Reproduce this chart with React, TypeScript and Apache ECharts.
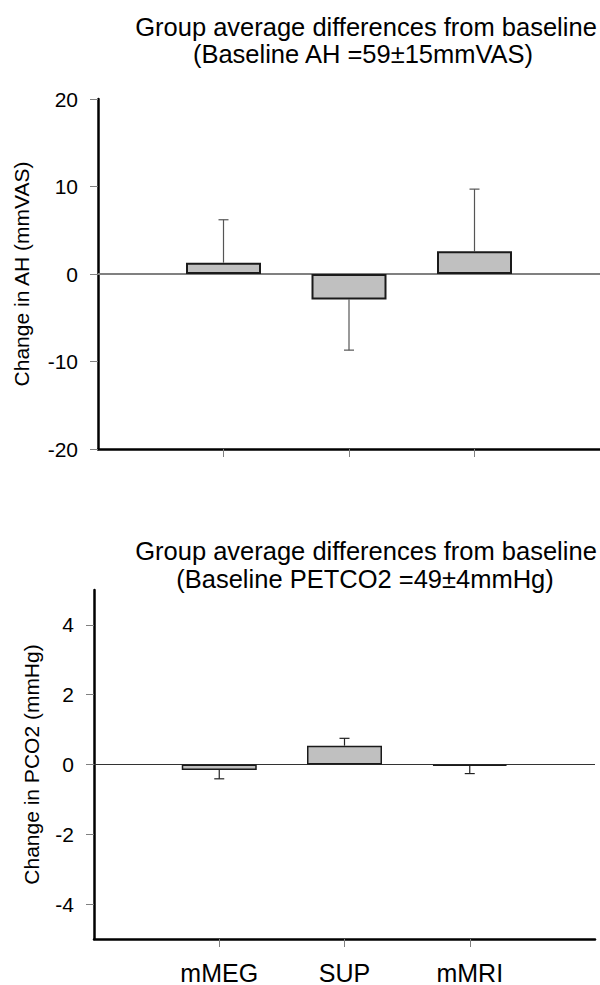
import React, { useEffect, useRef } from "react";
import * as echarts from "echarts";

const categories = ["mMEG", "SUP", "mMRI"];
const catPositions = [1, 2, 3];
const ahMeans = [1.3, -2.9, 2.6];
const ahSD = [4.9, 5.8, 7.1];
const pco2Means = [-0.16, 0.54, -0.04];
const pco2SD = [0.25, 0.21, 0.22];
const ahTicks = [-20, -10, 0, 10, 20];
const pco2Ticks = [-4, -2, 0, 2, 4];

const titleLine1 = "Group average differences from baseline";
const ahTitleLine2 = "(Baseline AH =59±15mmVAS)";
const pco2TitleLine2 = "(Baseline PETCO2 =49±4mmHg)";

const FONT = '"Liberation Sans", Arial, sans-serif';

function errData(means: number[], sd: number[]) {
  return means.map((m, i) => [catPositions[i], m, m >= 0 ? m + sd[i] : m - sd[i]]);
}

function errRender(color: string) {
  return (params: any, api: any) => {
    const x = api.value(0);
    const p0 = api.coord([x, api.value(1)]);
    const p1 = api.coord([x, api.value(2)]);
    const style = { stroke: color, lineWidth: 1.2 };
    return {
      type: "group",
      children: [
        { type: "line", shape: { x1: p0[0], y1: p0[1], x2: p1[0], y2: p1[1] }, style },
        { type: "line", shape: { x1: p1[0] - 5, y1: p1[1], x2: p1[0] + 5, y2: p1[1] }, style },
      ],
    };
  };
}

export default function App() {
  const ref = useRef<HTMLDivElement>(null);
  useEffect(() => {
    if (!ref.current) return;
    const chart = echarts.init(ref.current, undefined, { renderer: "svg" });
    const tickStyle = { color: "#808080", width: 1 };
    const yAxisCommon = (name: string, gap: number) => ({
      type: "value",
      name,
      nameLocation: "middle",
      nameGap: gap,
      nameTextStyle: { fontSize: 21, fontFamily: FONT, color: "#000" },
      axisLine: { show: true, lineStyle: { color: "#000", width: 2.5 } },
      axisTick: { show: true, length: 8, lineStyle: tickStyle },
      axisLabel: { fontSize: 21, fontFamily: FONT, color: "#000", margin: 20 },
      splitLine: { show: false },
    });
    const option: any = {
      animation: false,
      backgroundColor: "#fff",
      grid: [
        { left: 98, top: 99, width: 502, height: 350 },
        { left: 94, top: 590, width: 501, height: 350 },
      ],
      xAxis: [
        {
          gridIndex: 0,
          type: "value",
          min: 0,
          max: 4,
          axisLine: { show: true, onZero: false, lineStyle: { color: "#000", width: 2.5 } },
          axisTick: { show: true, customValues: catPositions, length: 8, lineStyle: tickStyle },
          axisLabel: { show: false },
          splitLine: { show: false },
        },
        {
          gridIndex: 1,
          type: "value",
          min: 0,
          max: 4,
          axisLine: { show: true, onZero: false, lineStyle: { color: "#000", width: 2.5 } },
          axisTick: { show: true, customValues: catPositions, length: 8, lineStyle: tickStyle },
          axisLabel: {
            show: true,
            customValues: catPositions,
            formatter: (v: number) => categories[catPositions.indexOf(v)] ?? "",
            fontSize: 25,
            fontFamily: FONT,
            color: "#000",
            margin: 21,
          },
          splitLine: { show: false },
        },
      ],
      yAxis: [
        {
          gridIndex: 0,
          ...yAxisCommon("Change in AH (mmVAS)", 66),
          min: ahTicks[0],
          max: ahTicks[ahTicks.length - 1],
          interval: 10,
        },
        {
          gridIndex: 1,
          ...yAxisCommon("Change in PCO2 (mmHg)", 52),
          min: -5,
          max: 5,
          axisTick: { show: true, customValues: pco2Ticks, length: 8, lineStyle: tickStyle },
          axisLabel: { customValues: pco2Ticks, fontSize: 21, fontFamily: FONT, color: "#000", margin: 20 },
        },
      ],
      series: [
        {
          type: "bar",
          xAxisIndex: 0,
          yAxisIndex: 0,
          barWidth: 75,
          data: ahMeans.map((m, i) => [catPositions[i], m]),
          itemStyle: { color: "#c0c0c0", borderColor: "#1a1a1a", borderWidth: 2 },
          markLine: {
            silent: true,
            symbol: ["none", "none"],
            label: { show: false },
            lineStyle: { color: "#808080", width: 2, type: "solid" },
            data: [{ yAxis: 0 }],
            z: 1,
          },
          z: 3,
        },
        {
          type: "custom",
          xAxisIndex: 0,
          yAxisIndex: 0,
          renderItem: errRender("#555"),
          encode: { x: 0, y: [1, 2] },
          data: errData(ahMeans, ahSD),
          z: 2,
        },
        {
          type: "bar",
          xAxisIndex: 1,
          yAxisIndex: 1,
          barWidth: 75,
          data: pco2Means.map((m, i) => [catPositions[i], m]),
          itemStyle: { color: "#c0c0c0", borderColor: "#1a1a1a", borderWidth: 1.5 },
          markLine: {
            silent: true,
            symbol: ["none", "none"],
            label: { show: false },
            lineStyle: { color: "#333", width: 1, type: "solid" },
            data: [{ yAxis: 0 }],
            z: 1,
          },
          z: 3,
        },
        {
          type: "custom",
          xAxisIndex: 1,
          yAxisIndex: 1,
          renderItem: errRender("#222"),
          encode: { x: 0, y: [1, 2] },
          data: errData(pco2Means, pco2SD),
          z: 2,
        },
      ],
      graphic: [
        { type: "text", x: 366, y: 27, style: { text: titleLine1, fontSize: 25.5, fontFamily: FONT, fill: "#000", align: "center", verticalAlign: "middle" } },
        { type: "text", x: 363, y: 54, style: { text: ahTitleLine2, fontSize: 25.5, fontFamily: FONT, fill: "#000", align: "center", verticalAlign: "middle" } },
        { type: "text", x: 366, y: 551, style: { text: titleLine1, fontSize: 25.5, fontFamily: FONT, fill: "#000", align: "center", verticalAlign: "middle" } },
        { type: "text", x: 365, y: 579, style: { text: pco2TitleLine2, fontSize: 25.5, fontFamily: FONT, fill: "#000", align: "center", verticalAlign: "middle" } },
      ],
    };
    chart.setOption(option);
    return () => chart.dispose();
  }, []);
  return <div ref={ref} style={{ position: "fixed", left: 0, top: 0, width: 600, height: 985 }} />;
}
